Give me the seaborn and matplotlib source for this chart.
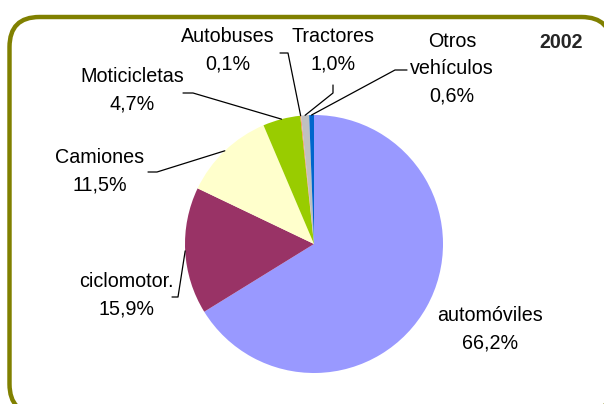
import numpy as np
import matplotlib.pyplot as plt
import seaborn as sns
from matplotlib.patches import FancyBboxPatch

# data
categories = ["automóviles", "ciclomotor.", "Camiones", "Moticicletas",
              "Autobuses", "Tractores", "Otros\nvehículos"]
shares = [66.2, 15.9, 11.5, 4.7, 0.1, 1.0, 0.6]
year = "2002"

sns.set_theme(style="white")
plt.rcParams["font.family"] = ["Liberation Sans", "DejaVu Sans"]
colors = sns.color_palette(["#9999FF", "#993366", "#FFFFCC", "#99CC00",
                            "#FF8040", "#C0C0C0", "#0066CC"])

W, H = 604, 404
fig = plt.figure(figsize=(W / 100, H / 100), dpi=100)
ax = fig.add_axes([0, 0, 1, 1])

# rounded olive frame (runs off the right/bottom edge like the source)
frame = FancyBboxPatch((9.5, -10), 602, H - 17 + 10,
                       boxstyle="round,pad=0,rounding_size=30",
                       fc="white", ec="#808000", lw=3.2, zorder=0)
ax.add_patch(frame)

cx, cy, r = 314, H - 244, 129
wedges, _ = ax.pie(shares, colors=colors, startangle=90, counterclock=False,
                   center=(cx, cy), radius=r, frame=True,
                   wedgeprops=dict(linewidth=0))
ax.set_xlim(0, W)
ax.set_ylim(0, H)
ax.set_aspect("equal")
ax.axis("off")


def pct(v):
    return f"{v:.1f}".replace(".", ",") + "%"


# label text positions (px, y down) and leader-line elbows
layout = {
    "automóviles": ((490, 329), None),
    "ciclomotor.": ((126, 295), [(172, 297), (178, 297)]),
    "Camiones": ((100, 171), [(148, 172), (157, 172)]),
    "Moticicletas": ((132, 90), [(183, 93), (193, 93)]),
    "Autobuses": ((228, 50), [(280, 53), (288, 53)]),
    "Tractores": ((333, 50), [(333, 85), (333, 93)]),
    "Otros\nvehículos": ((452, 69), [(407, 70), (395, 70)]),
}

for w, name, v in zip(wedges, categories, shares):
    (tx, ty), elbow = layout[name]
    ax.text(tx, H - ty, f"{name}\n{pct(v)}", ha="center", va="center",
            fontsize=14.2, linespacing=1.55, color="black")
    if elbow:
        mid = np.deg2rad((w.theta1 + w.theta2) / 2)
        px, py = cx + r * np.cos(mid), cy + r * np.sin(mid)
        xs = [p[0] for p in elbow] + [px]
        ys = [H - p[1] for p in elbow] + [py]
        ax.plot(xs, ys, color="black", lw=0.9, zorder=3)

ax.text(561, H - 43, year, ha="center", va="center", fontsize=14.2,
        fontweight="bold")

fig.savefig("out.png", dpi=100)
